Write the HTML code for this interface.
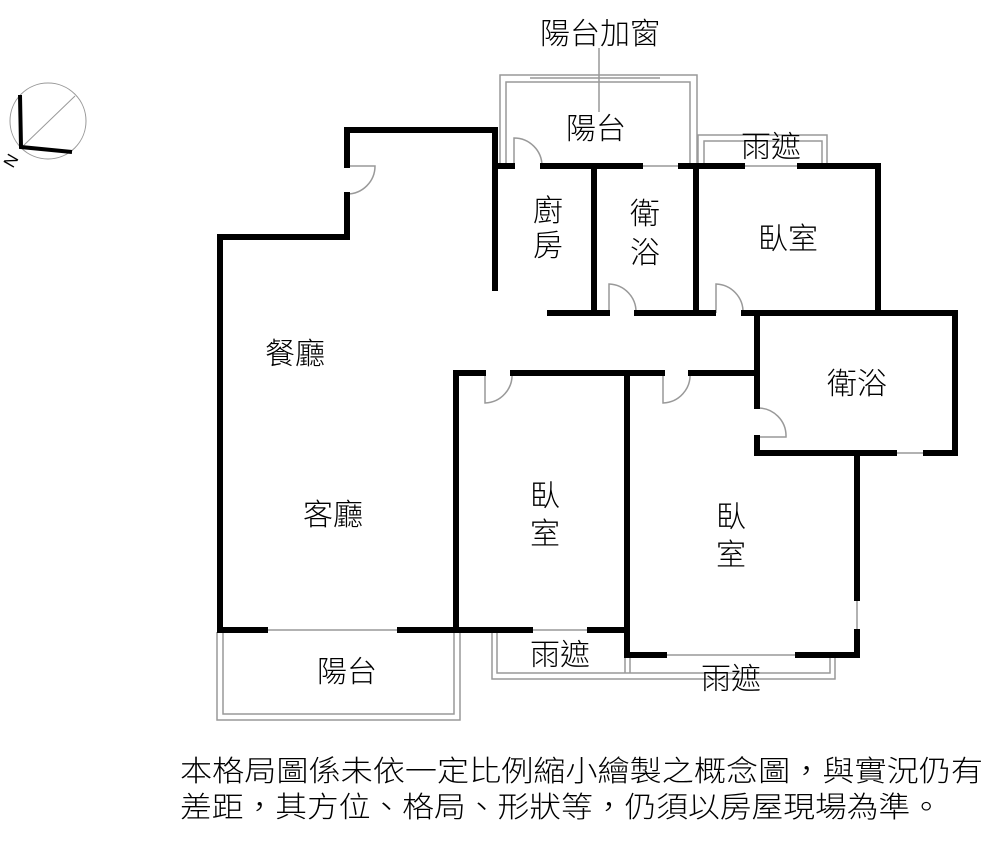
<!DOCTYPE html>
<html><head><meta charset="utf-8"><style>
html,body{margin:0;padding:0;background:#fff;}
svg{display:block}
text{font-family:"Liberation Sans","Noto Sans CJK TC",sans-serif;fill:#000;font-weight:300}
</style></head><body>
<svg width="1000" height="844" viewBox="0 0 1000 844" xmlns="http://www.w3.org/2000/svg">
<!-- compass -->
<circle cx="48" cy="121" r="38" fill="none" stroke="#999" stroke-width="1"/>
<line x1="22" y1="147" x2="75" y2="96" stroke="#999" stroke-width="1"/>
<polyline points="20,95 21,147 72,152" fill="none" stroke="#000" stroke-width="4"/>
<text x="2" y="166" font-size="17" font-weight="700" transform="rotate(-60 10 158)">N</text>

<g fill="none" stroke="#999" stroke-width="1.5">
 <polyline points="500,165 500,75 697,75 697,165"/>
 <polyline points="506,165 506,82 690,82 690,165"/>
 <polyline points="698,165 698,135 827,135 827,165"/>
 <polyline points="704,165 704,141 822,141 822,165"/>
 <polyline points="217,632 217,720 460,720 460,632"/>
 <polyline points="223,632 223,714 454,714 454,632"/>
 <polyline points="492,632 492,679 835,679 835,656"/>
 <polyline points="497,632 497,673 830,673 830,656"/>
 <line x1="625" y1="632" x2="625" y2="673"/>
 <line x1="630" y1="656" x2="630" y2="673"/>
 <line x1="265" y1="630" x2="400" y2="630"/>
 <line x1="530" y1="630" x2="590" y2="630"/>
 <line x1="665" y1="655" x2="797" y2="655"/>
 <line x1="857" y1="598" x2="857" y2="632"/>
 <line x1="895" y1="453" x2="925" y2="453"/>
 <line x1="640" y1="166" x2="680" y2="166"/>
 <line x1="742" y1="166" x2="800" y2="166"/>
 <line x1="530" y1="78" x2="660" y2="78"/>
 <line x1="599" y1="48" x2="599" y2="112"/>
 <path d="M347,166 L375,166 A28,28 0 0 1 347,194"/>
 <path d="M514,166 L514,138 A28,28 0 0 1 542,166"/>
 <path d="M609,313 L609,284 A28,28 0 0 1 636,313"/>
 <path d="M716,313 L716,284 A28,28 0 0 1 743,313"/>
 <path d="M485,373 L485,403 A28,28 0 0 0 512,373"/>
 <path d="M663,373 L663,403 A28,28 0 0 0 690,373"/>
 <path d="M757,408 A28,28 0 0 1 786,437 L757,437"/>
</g>

<g stroke="#000" stroke-width="6" fill="none" stroke-linecap="square">
 <polyline points="347,165 347,130 495,130 495,288"/>
 <polyline points="347,195 347,237 220,237 220,630 265,630"/>
 <line x1="400" y1="630" x2="530" y2="630"/>
 <line x1="590" y1="630" x2="627" y2="630"/>
 <line x1="495" y1="166" x2="512" y2="166"/>
 <line x1="543" y1="166" x2="640" y2="166"/>
 <line x1="681" y1="166" x2="742" y2="166"/>
 <polyline points="800,166 878,166 878,313"/>
 <line x1="594" y1="166" x2="594" y2="313"/>
 <line x1="696" y1="166" x2="696" y2="313"/>
 <line x1="550" y1="313" x2="607" y2="313"/>
 <line x1="637" y1="313" x2="713" y2="313"/>
 <polyline points="744,313 955,313 955,453 926,453"/>
 <polyline points="757,313 757,406"/>
 <polyline points="757,438 757,453 894,453"/>
 <polyline points="857,453 857,598"/>
 <polyline points="857,632 857,655 798,655"/>
 <polyline points="664,655 627,655 627,373 662,373"/>
 <line x1="691" y1="373" x2="757" y2="373"/>
 <polyline points="483,373 456,373 456,630"/>
 <line x1="513" y1="373" x2="627" y2="373"/>
</g>

<g font-size="30" text-anchor="middle">
 <text x="600" y="44">陽台加窗</text>
 <text x="596" y="139">陽台</text>
 <text x="771" y="157">雨遮</text>
 <text x="548" y="221">廚</text>
 <text x="548" y="256">房</text>
 <text x="645" y="224">衛</text>
 <text x="645" y="263">浴</text>
 <text x="788" y="249">臥室</text>
 <text x="857" y="394">衛浴</text>
 <text x="295" y="364">餐廳</text>
 <text x="333" y="525">客廳</text>
 <text x="545" y="506">臥</text>
 <text x="545" y="544">室</text>
 <text x="731" y="527">臥</text>
 <text x="731" y="565">室</text>
 <text x="347" y="682">陽台</text>
 <text x="560" y="665">雨遮</text>
 <text x="731" y="689">雨遮</text>
</g>
<text x="180" y="781" font-size="29" textLength="803" lengthAdjust="spacingAndGlyphs">本格局圖係未依一定比例縮小繪製之概念圖，與實況仍有</text>
<text x="180" y="817" font-size="29" textLength="762" lengthAdjust="spacingAndGlyphs">差距，其方位、格局、形狀等，仍須以房屋現場為準。</text>
</svg>
</body></html>
